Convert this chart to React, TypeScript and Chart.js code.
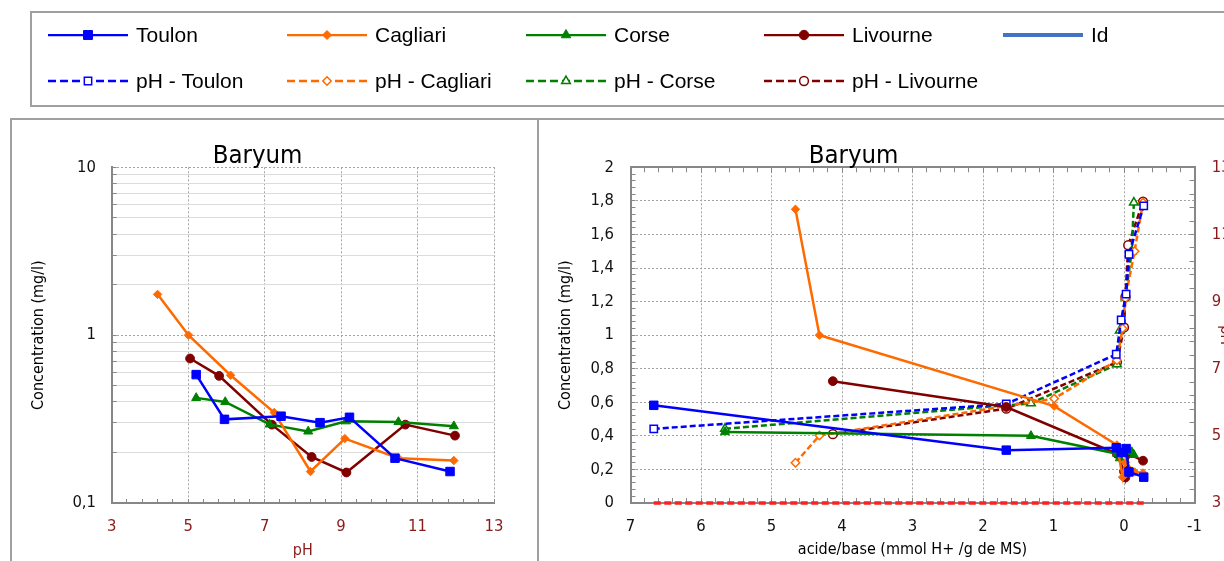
import React, { useEffect, useRef } from 'react';
import { Chart, registerables } from 'chart.js';

Chart.register(...registerables);

const NARROW = "'Liberation Sans Narrow', 'Arial Narrow', 'DejaVu Sans Condensed', sans-serif";
const SANS = "'Liberation Sans', Arial, sans-serif";
const DARK_RED = '#8B1A1A';
const GRID_COLOR = '#a3a3a3';
const MINOR_GRID = '#dcdcdc';
const AXIS_COLOR = '#878787';
const LABEL_COLOR = '#111111';
const CLEAR = 'rgba(0,0,0,0)';
const ID_COLOR = '#4472C4';
const LD_COLOR = '#FF2020';

Chart.defaults.font.family = NARROW;

// Leaching results per site: pH, barium concentration (mg/l), acid/base added (mmol H+ /g de MS)
const toulonPH = [5.21, 5.95, 7.43, 8.45, 9.22, 10.41, 11.85];
const toulonConc = [0.582, 0.315, 0.329, 0.301, 0.324, 0.185, 0.154];
const toulonAB = [6.67, 1.67, 0.11, 0.04, -0.03, -0.07, -0.28];

const cagliariPH = [4.2, 5.01, 6.11, 7.25, 8.2, 9.1, 10.5, 11.95];
const cagliariConc = [1.75, 1.0, 0.577, 0.346, 0.154, 0.242, 0.185, 0.179];
const cagliariAB = [4.66, 4.32, 0.99, 0.1, 0.02, -0.02, -0.15, -0.27];

const corsePH = [5.21, 5.97, 7.13, 8.14, 9.13, 10.5, 11.95];
const corseConc = [0.423, 0.4, 0.294, 0.267, 0.307, 0.304, 0.287];
const corseAB = [5.66, 1.32, 0.1, 0.06, -0.02, -0.11, -0.14];

const livournePH = [5.05, 5.81, 7.19, 8.23, 9.14, 10.68, 11.98];
const livourneConc = [0.726, 0.572, 0.293, 0.188, 0.152, 0.293, 0.252];
const livourneAB = [4.13, 1.67, 0.1, 0.0, -0.02, -0.06, -0.27];

// Detection limit line
const ldAB = [6.67, -0.28];
const ldConc = [0, 0];

type PointKind = 'rect' | 'rectRot' | 'triangle' | 'circle';
interface Site {
  name: string;
  color: string;
  point: PointKind;
  r: number;
  rOpen: number;
  ph: number[];
  conc: number[];
  ab: number[];
}

const SITES: Site[] = [
  { name: 'Toulon', color: '#0000FF', point: 'rect', r: 6, rOpen: 5.2, ph: toulonPH, conc: toulonConc, ab: toulonAB },
  { name: 'Cagliari', color: '#FF6A00', point: 'rectRot', r: 4.2, rOpen: 4.2, ph: cagliariPH, conc: cagliariConc, ab: cagliariAB },
  { name: 'Corse', color: '#008000', point: 'triangle', r: 5.2, rOpen: 5, ph: corsePH, conc: corseConc, ab: corseAB },
  { name: 'Livourne', color: '#800000', point: 'circle', r: 4.4, rOpen: 4.4, ph: livournePH, conc: livourneConc, ab: livourneAB },
];

type Tick = { value: number; major: boolean };

function linearTicks(min: number, count: number, step: number, every: number): Tick[] {
  const out: Tick[] = [];
  for (let i = 0; i <= count; i++) {
    out.push({ value: +(min + i * step).toFixed(6), major: i % every === 0 });
  }
  return out;
}

function logTicks(minExp: number, maxExp: number): Tick[] {
  const out: Tick[] = [];
  for (let e = minExp; e < maxExp; e++) {
    for (let m = 1; m <= 9; m++) out.push({ value: +(m * Math.pow(10, e)).toPrecision(6), major: m === 1 });
  }
  out.push({ value: Math.pow(10, maxExp), major: true });
  return out;
}

const fmt = (v: number) => {
  const r = Math.round(v * 100) / 100;
  return Number.isInteger(r) ? String(r) : r.toFixed(1).replace('.', ',');
};
const majorLabel = (v: any, i: number, ticks: any[]) => (ticks[i] && ticks[i].major ? fmt(Number(v)) : '');
const isMajor = (c: any) => !!(c && c.tick && c.tick.major);

const tickFont = { family: NARROW, size: 16.5 };
const axisTitleFont = { family: NARROW, size: 16 };

// Chart heading drawn at a fixed spot of the canvas
const panelTitle = {
  id: 'panelTitle',
  afterDraw(chart: any, _args: any, opts: any) {
    const ctx = chart.ctx;
    ctx.save();
    ctx.font = `normal ${opts.size}px ${NARROW}`;
    ctx.fillStyle = '#000';
    ctx.textAlign = 'center';
    ctx.textBaseline = 'alphabetic';
    ctx.fillText(opts.text, opts.x, opts.y);
    ctx.restore();
  },
};

function markPath(ctx: CanvasRenderingContext2D, kind: PointKind, x: number, y: number, r: number) {
  ctx.beginPath();
  if (kind === 'rect') {
    const s = r * Math.SQRT1_2;
    ctx.rect(x - s, y - s, 2 * s, 2 * s);
  } else if (kind === 'rectRot') {
    ctx.moveTo(x - r, y);
    ctx.lineTo(x, y - r);
    ctx.lineTo(x + r, y);
    ctx.lineTo(x, y + r);
    ctx.closePath();
  } else if (kind === 'triangle') {
    let a = 0;
    ctx.moveTo(x + Math.sin(a) * r, y - Math.cos(a) * r);
    a += (2 * Math.PI) / 3;
    ctx.lineTo(x + Math.sin(a) * r, y - Math.cos(a) * r);
    a += (2 * Math.PI) / 3;
    ctx.lineTo(x + Math.sin(a) * r, y - Math.cos(a) * r);
    ctx.closePath();
  } else {
    ctx.arc(x, y, r, 0, Math.PI * 2);
  }
}

// Two-row legend laid out in fixed columns
const gridLegend = {
  id: 'gridLegend',
  afterDraw(chart: any, _args: any, opts: any) {
    const ctx: CanvasRenderingContext2D = chart.ctx;
    chart.data.datasets.forEach((ds: any, i: number) => {
      const row = i < opts.perRow ? 0 : 1;
      const col = i < opts.perRow ? i : i - opts.perRow;
      const x0 = opts.cols[col];
      const y = opts.rows[row];
      ctx.save();
      ctx.strokeStyle = ds.borderColor;
      ctx.lineWidth = ds.borderWidth;
      ctx.setLineDash(ds.borderDash || []);
      ctx.lineCap = 'butt';
      ctx.beginPath();
      ctx.moveTo(x0, y);
      ctx.lineTo(x0 + opts.lineLength, y);
      ctx.stroke();
      ctx.setLineDash([]);
      if (ds.pointStyle) {
        markPath(ctx, ds.pointStyle, x0 + opts.lineLength / 2, y, ds.pointRadius);
        ctx.fillStyle = ds.pointBackgroundColor;
        ctx.fill();
        ctx.lineWidth = ds.pointBorderWidth;
        ctx.strokeStyle = ds.pointBorderColor;
        ctx.stroke();
      }
      ctx.font = `normal ${opts.fontSize}px ${SANS}`;
      ctx.fillStyle = '#000';
      ctx.textAlign = 'left';
      ctx.textBaseline = 'alphabetic';
      ctx.fillText(ds.label, x0 + opts.lineLength + opts.gap, y + opts.fontSize * 0.35);
      ctx.restore();
    });
  },
};

function legendConfig(): any {
  const solid = SITES.map((s) => ({
    label: s.name,
    data: [],
    borderColor: s.color,
    borderWidth: 2.25,
    borderDash: [],
    pointStyle: s.point,
    pointRadius: s.point === 'rect' ? 6.3 : s.r + 0.3,
    pointBackgroundColor: s.color,
    pointBorderColor: s.color,
    pointBorderWidth: 1,
  }));
  const idEntry = {
    label: 'Id',
    data: [],
    borderColor: ID_COLOR,
    borderWidth: 4,
    borderDash: [],
    pointStyle: false,
    pointRadius: 0,
  };
  const dashed = SITES.map((s) => ({
    label: 'pH - ' + s.name,
    data: [],
    borderColor: s.color,
    borderWidth: 2.5,
    borderDash: [8, 4],
    pointStyle: s.point,
    pointRadius: s.rOpen,
    pointBackgroundColor: '#ffffff',
    pointBorderColor: s.color,
    pointBorderWidth: 1.5,
  }));
  return {
    type: 'line',
    data: { datasets: [...solid, idEntry, ...dashed] },
    options: {
      responsive: false,
      animation: false,
      events: [],
      plugins: {
        legend: { display: false },
        tooltip: { enabled: false },
        gridLegend: { cols: [48, 287, 526, 764, 1003], rows: [35, 81], perRow: 5, lineLength: 80, gap: 8, fontSize: 21 },
      },
      scales: { x: { display: false }, y: { display: false } },
    },
    plugins: [gridLegend],
  };
}

function leftConfig(): any {
  return {
    type: 'line',
    data: {
      datasets: SITES.map((s) => ({
        label: s.name,
        data: s.ph.map((x, i) => ({ x, y: s.conc[i] })),
        borderColor: s.color,
        backgroundColor: s.color,
        borderWidth: 2.5,
        pointStyle: s.point,
        pointRadius: s.r,
        pointBorderWidth: 1,
        pointBackgroundColor: s.color,
        pointBorderColor: s.color,
      })),
    },
    options: {
      responsive: false,
      animation: false,
      events: [],
      layout: { padding: { left: 0, top: 47.3, right: 44, bottom: 0 } },
      plugins: {
        legend: { display: false },
        tooltip: { enabled: false },
        panelTitle: { text: 'Baryum', x: 246.5, y: 43, size: 25.5 },
      },
      scales: {
        x: {
          type: 'linear',
          min: 3,
          max: 13,
          afterBuildTicks: (s: any) => {
            s.ticks = linearTicks(3, 25, 0.4, 5);
          },
          afterFit: (s: any) => {
            s.height = 58;
          },
          ticks: { autoSkip: false, maxRotation: 0, minRotation: 0, padding: 18.1, color: DARK_RED, font: tickFont, callback: majorLabel },
          grid: { color: (c: any) => (isMajor(c) ? GRID_COLOR : CLEAR), tickColor: AXIS_COLOR, tickLength: -4, lineWidth: 1 },
          border: { display: true, color: AXIS_COLOR, width: 2, dash: [2, 2] },
          title: { display: true, text: 'pH', color: DARK_RED, font: axisTitleFont, padding: { top: 0, bottom: 0.5 } },
        },
        y: {
          type: 'logarithmic',
          min: 0.1,
          max: 10,
          afterBuildTicks: (s: any) => {
            s.ticks = logTicks(-1, 1);
          },
          afterFit: (s: any) => {
            s.width = 100.7;
          },
          ticks: { autoSkip: false, padding: 20.7, color: LABEL_COLOR, font: tickFont, callback: majorLabel },
          grid: { color: (c: any) => (isMajor(c) ? GRID_COLOR : MINOR_GRID), tickColor: AXIS_COLOR, tickLength: -5, lineWidth: 1 },
          border: { display: true, color: AXIS_COLOR, width: 2, dash: (c: any) => (isMajor(c) ? [2, 2] : []) },
          title: { display: true, text: 'Concentration (mg/l)', color: '#000', font: axisTitleFont, padding: { top: 18.4, bottom: 0 } },
        },
      },
    },
    plugins: [panelTitle],
  };
}

function rightConfig(): any {
  const solid = SITES.map((s) => ({
    label: s.name,
    data: s.ab.map((x, i) => ({ x, y: s.conc[i] })),
    xAxisID: 'x',
    yAxisID: 'y',
    borderColor: s.color,
    backgroundColor: s.color,
    borderWidth: 2.5,
    pointStyle: s.point,
    pointRadius: s.r,
    pointBorderWidth: 1,
    pointBackgroundColor: s.color,
    pointBorderColor: s.color,
  }));
  const dashed = SITES.map((s) => ({
    label: 'pH - ' + s.name,
    data: s.ab.map((x, i) => ({ x, y: s.ph[i] })),
    xAxisID: 'x',
    yAxisID: 'y2',
    borderColor: s.color,
    backgroundColor: '#ffffff',
    borderWidth: 2.5,
    borderDash: [6, 3],
    pointStyle: s.point,
    pointRadius: s.rOpen,
    pointBorderWidth: 1.5,
    pointBackgroundColor: '#ffffff',
    pointBorderColor: s.color,
  }));
  const ld = {
    label: 'ld',
    data: ldAB.map((x, i) => ({ x, y: ldConc[i] })),
    xAxisID: 'x',
    yAxisID: 'y',
    borderColor: LD_COLOR,
    borderWidth: 3.5,
    borderDash: [7, 3.5],
    pointRadius: 0,
    clip: false,
  };
  return {
    type: 'line',
    data: { datasets: [...solid, ...dashed, ld] },
    options: {
      responsive: false,
      animation: false,
      events: [],
      layout: { padding: { left: 0, top: 47.3, right: 0, bottom: 0 } },
      plugins: {
        legend: { display: false },
        tooltip: { enabled: false },
        panelTitle: { text: 'Baryum', x: 314.5, y: 43, size: 25.5 },
      },
      scales: {
        x: {
          type: 'linear',
          position: 'bottom',
          min: -1,
          max: 7,
          reverse: true,
          afterBuildTicks: (s: any) => {
            s.ticks = linearTicks(-1, 40, 0.2, 5);
          },
          afterFit: (s: any) => {
            s.height = 58;
          },
          ticks: { autoSkip: false, maxRotation: 0, minRotation: 0, padding: 19.1, color: LABEL_COLOR, font: tickFont, callback: majorLabel },
          grid: { color: (c: any) => (isMajor(c) ? GRID_COLOR : CLEAR), tickColor: AXIS_COLOR, tickLength: -5, lineWidth: 1 },
          border: { display: true, color: AXIS_COLOR, width: 2, dash: [2, 2] },
          title: {
            display: true,
            text: 'acide/base (mmol H+ /g de MS)',
            color: '#000',
            font: axisTitleFont,
            padding: { top: 0, bottom: 1.4 },
          },
        },
        xTop: {
          type: 'linear',
          axis: 'x',
          position: 'top',
          min: -1,
          max: 7,
          reverse: true,
          afterBuildTicks: (s: any) => {
            s.ticks = linearTicks(-1, 40, 0.2, 5);
          },
          afterFit: (s: any) => {
            s.height = 0;
          },
          ticks: { display: false, autoSkip: false },
          grid: { drawOnChartArea: false, tickColor: AXIS_COLOR, tickLength: -5 },
          border: { display: true, color: AXIS_COLOR, width: 2 },
        },
        y: {
          type: 'linear',
          position: 'left',
          min: 0,
          max: 2,
          afterBuildTicks: (s: any) => {
            s.ticks = linearTicks(0, 50, 0.04, 5);
          },
          afterFit: (s: any) => {
            s.width = 91.5;
          },
          ticks: { autoSkip: false, padding: 21.5, color: LABEL_COLOR, font: tickFont, callback: majorLabel },
          grid: { color: (c: any) => (isMajor(c) ? GRID_COLOR : CLEAR), tickColor: AXIS_COLOR, tickLength: -5, lineWidth: 1 },
          border: { display: true, color: AXIS_COLOR, width: 2, dash: [2, 2] },
          title: { display: true, text: 'Concentration (mg/l)', color: '#000', font: axisTitleFont, padding: { top: 17.4, bottom: 0 } },
        },
        y2: {
          type: 'linear',
          position: 'right',
          min: 3,
          max: 13,
          afterBuildTicks: (s: any) => {
            s.ticks = linearTicks(3, 25, 0.4, 5);
          },
          afterFit: (s: any) => {
            s.width = 40.5;
          },
          ticks: { autoSkip: false, padding: 22.2, color: DARK_RED, font: tickFont, callback: majorLabel },
          grid: { drawOnChartArea: false, tickColor: AXIS_COLOR, tickLength: -5 },
          border: { display: true, color: AXIS_COLOR, width: 2 },
          title: { display: true, text: 'pH', color: DARK_RED, font: axisTitleFont, padding: { top: 0, bottom: 0 } },
        },
      },
    },
    plugins: [panelTitle],
  };
}

export default function App() {
  const legendRef = useRef<HTMLCanvasElement>(null);
  const leftRef = useRef<HTMLCanvasElement>(null);
  const rightRef = useRef<HTMLCanvasElement>(null);

  useEffect(() => {
    const charts = [
      new Chart(legendRef.current as HTMLCanvasElement, legendConfig()),
      new Chart(leftRef.current as HTMLCanvasElement, leftConfig()),
      new Chart(rightRef.current as HTMLCanvasElement, rightConfig()),
    ];
    return () => charts.forEach((c) => c.destroy());
  }, []);

  const frame = '2px solid #a0a0a0';
  return (
    <div style={{ position: 'absolute', left: 0, top: 0, width: 1224, height: 561, overflow: 'hidden', background: '#fff' }}>
      <div style={{ position: 'absolute', left: 30, top: 11, width: 1240, height: 96, border: frame, boxSizing: 'border-box' }} />
      <div style={{ position: 'absolute', left: 10, top: 118, width: 529, height: 500, border: frame, boxSizing: 'border-box' }} />
      <div style={{ position: 'absolute', left: 537, top: 118, width: 760, height: 500, border: frame, boxSizing: 'border-box' }} />
      <canvas ref={legendRef} width={1224} height={110} style={{ position: 'absolute', left: 0, top: 0 }} />
      <canvas ref={leftRef} width={527} height={441} style={{ position: 'absolute', left: 11, top: 120 }} />
      <canvas ref={rightRef} width={696} height={441} style={{ position: 'absolute', left: 539, top: 120 }} />
    </div>
  );
}
